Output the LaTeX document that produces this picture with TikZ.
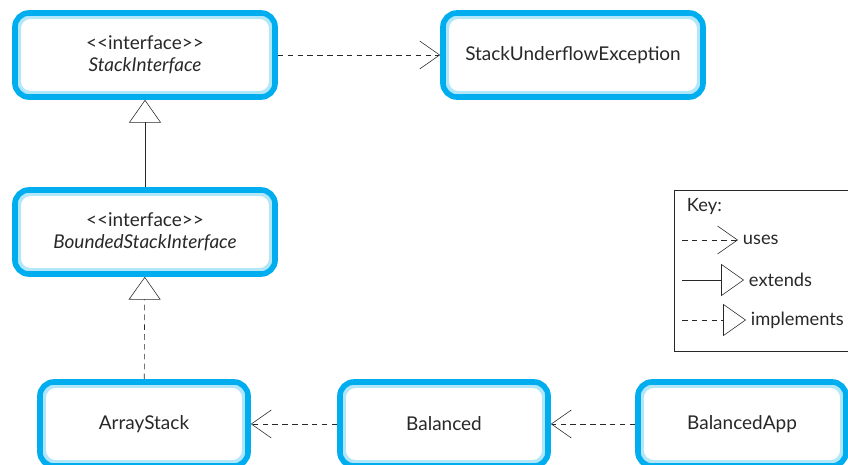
\documentclass[tikz,border=0pt]{standalone}
\usepackage{fontspec}
\setmainfont{Lato}
\usetikzlibrary{arrows.meta, positioning}
\definecolor{umlblue}{RGB}{0,174,239}
\definecolor{umltext}{RGB}{40,40,40}
\newcommand{\stereo}[1]{<\kern0pt<#1>\kern0pt>}
\tikzset{
    classbox/.style={draw=umlblue, line width=4pt, fill=white, rounded corners=10pt,
        minimum width=6.5cm, minimum height=2.1cm, align=center, text=umltext,
        font=\fontsize{13.5}{16}\selectfont,
        path picture={\draw[umlblue!30, line width=2.5pt, rounded corners=8pt]
            ([shift={(3pt,3pt)}]path picture bounding box.south west) rectangle
            ([shift={(-3pt,-3pt)}]path picture bounding box.north east);}},
    smallbox/.style={classbox, minimum width=5.2cm},
    keytext/.style={anchor=west, text=umltext, font=\fontsize{13}{16}\selectfont},
    uses/.style={dashed, dash pattern=on 4pt off 3pt, thin, umltext, -{Straight Barb[length=0.5cm, width=0.7cm]}},
    extends/.style={thin, umltext, -{Triangle[open, length=0.57cm, width=0.8cm]}},
    implements/.style={extends, dash pattern=on 4pt off 3pt}
}
\begin{document}
\begin{tikzpicture}[x=0.025cm, y=-0.025cm]
    \useasboundingbox (0,0) rectangle (848,465);

    % class boxes
    \node[classbox] (stackif) at (145,55) {\stereo{interface}\\ \textit{StackInterface}};
    \node[classbox] (underflow) at (573,55) {StackUnderflowException};
    \node[classbox] (boundedif) at (145,232) {\stereo{interface}\\ \textit{BoundedStackInterface}};
    \node[smallbox] (arraystack) at (144,424) {ArrayStack};
    \node[smallbox] (balanced) at (444,424) {Balanced};
    \node[smallbox] (balancedapp) at (742,424) {BalancedApp};

    % relations
    \draw[uses] (stackif) -- (underflow); % interface uses exception
    \draw[extends] (boundedif) -- (stackif); % bounded extends stack
    \draw[implements] (arraystack) -- (boundedif); % array stack implements
    \draw[uses] (balanced) -- (arraystack);
    \draw[uses] (balancedapp) -- (balanced);

    % key
    \draw[thin, umltext] (674,190) rectangle (860,351);
    \node[keytext] (key) at (682,207) {Key:};
    \coordinate (u1) at (682,240);
    \coordinate (u2) at (738,240);
    \coordinate (e1) at (682,280);
    \coordinate (e2) at (744,280);
    \coordinate (i1) at (682,320);
    \coordinate (i2) at (746,320);
    \draw[uses] (u1) -- (u2);
    \draw[extends] (e1) -- (e2);
    \draw[implements] (i1) -- (i2);
    \node[keytext] (usestxt) at (u2) {uses};
    \node[keytext] (extendstxt) at (e2) {extends};
    \node[keytext] (impltxt) at (i2) {implements};
\end{tikzpicture}
\end{document}
